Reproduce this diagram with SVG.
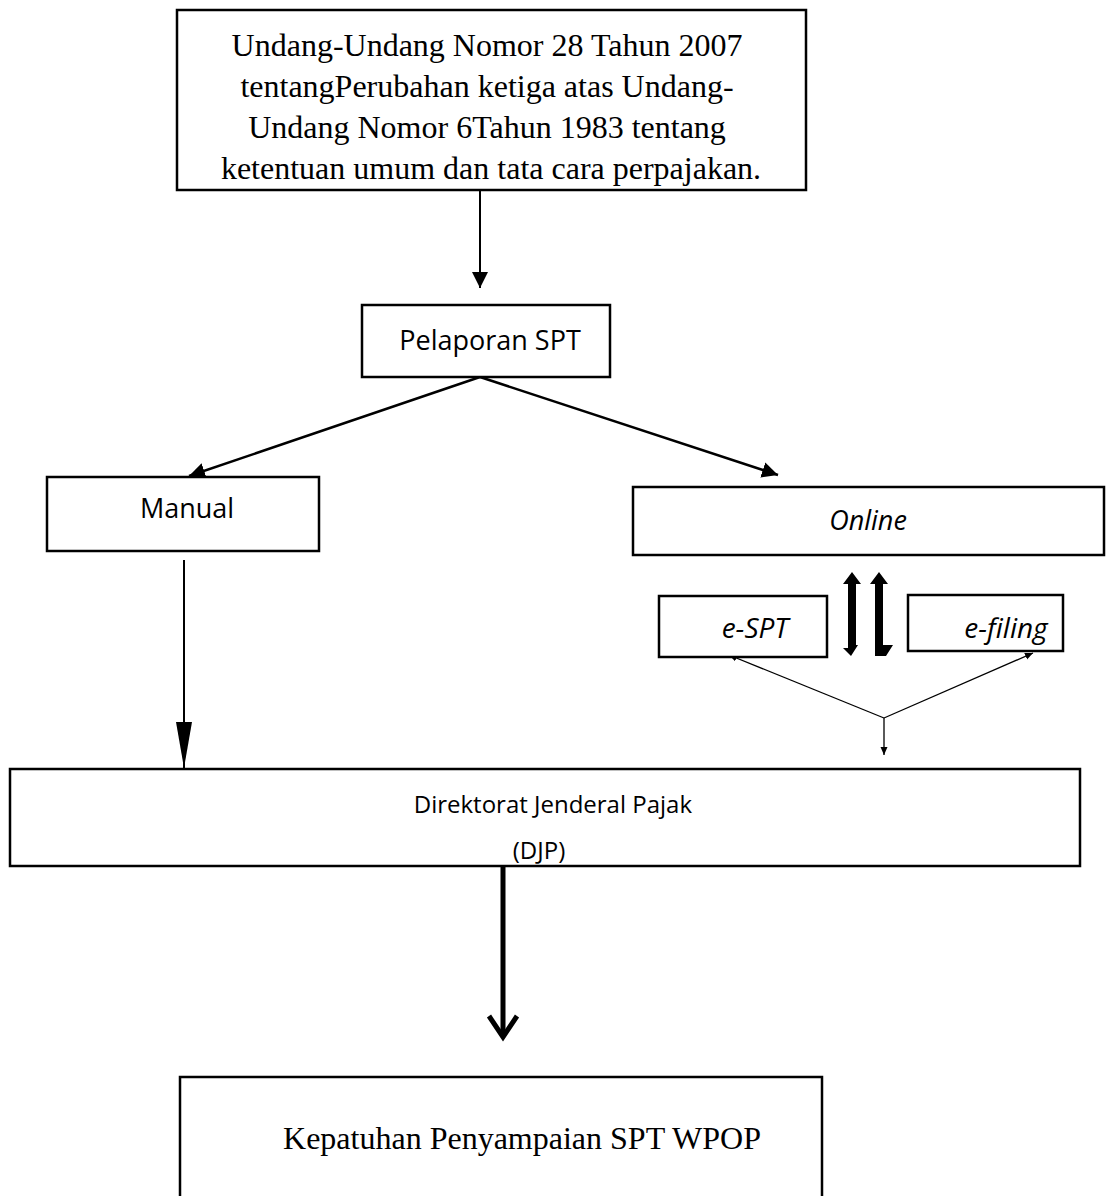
<svg xmlns="http://www.w3.org/2000/svg" width="1109" height="1196" viewBox="0 0 1109 1196">
<style>
.box{fill:#fff;stroke:#000;stroke-width:2.5}
.serif{font-family:"Liberation Serif","Times New Roman",serif;fill:#000}
.sans{font-family:"Open Sans","Noto Sans",sans-serif;fill:#000}
.it{font-style:italic}
.ln{stroke:#000;fill:none}
</style>
<defs>
<marker id="ah" markerUnits="userSpaceOnUse" markerWidth="16" markerHeight="20" refX="16" refY="8" orient="auto">
<path d="M0,0 L16,8 L0,16 Z" fill="#000"/>
</marker>
<marker id="ahs" markerUnits="userSpaceOnUse" markerWidth="8" markerHeight="8" refX="8" refY="4" orient="auto">
<path d="M0,0.5 L8,4 L0,7.5 Z" fill="#000"/>
</marker>
<marker id="ahl" markerUnits="userSpaceOnUse" markerWidth="46" markerHeight="16" refX="46" refY="8" orient="auto">
<path d="M0,0 L46,8 L0,16 Z" fill="#000"/>
</marker>
</defs>
<g id="connectors">
<line class="ln" x1="480" y1="190" x2="480" y2="288" stroke-width="2" marker-end="url(#ah)"/>
<line class="ln" x1="480" y1="377" x2="189" y2="476" stroke-width="2.5" marker-end="url(#ah)"/>
<line class="ln" x1="480" y1="377" x2="778" y2="475" stroke-width="2.5" marker-end="url(#ah)"/>
<line class="ln" x1="184" y1="560" x2="184" y2="768" stroke-width="2" marker-end="url(#ahl)"/>
<path d="M852,572 L861,584 L856,584 L856,645 L858,645 L851,656 L843,648 L848,648 L848,584 L843,584 Z" fill="#000"/>
<path d="M879,572 L888,584 L883,584 L883,645 L893,645 L886,656 L875,656 L875,584 L870,584 Z" fill="#000"/>
<line class="ln" x1="884" y1="718" x2="729" y2="655" stroke-width="1.3" marker-end="url(#ahs)"/>
<line class="ln" x1="884" y1="718" x2="1033" y2="653" stroke-width="1.3" marker-end="url(#ahs)"/>
<line class="ln" x1="884" y1="718" x2="884" y2="755" stroke-width="1.3" marker-end="url(#ahs)"/>
<line class="ln" x1="503" y1="866" x2="503" y2="1036" stroke-width="5"/>
<path class="ln" d="M489,1016 L503,1037 L517,1016" stroke-width="5" stroke-linejoin="miter"/>
</g>
<g id="node-uu">
<rect class="box" x="177" y="10" width="629" height="180"/>
<text class="serif" font-size="32" text-anchor="middle">
<tspan x="491" y="56">Undang-Undang Nomor 28 Tahun 2007</tspan>
<tspan x="491" y="97">tentangPerubahan ketiga atas Undang-</tspan>
<tspan x="491" y="138">Undang Nomor 6Tahun 1983 tentang</tspan>
<tspan x="491" y="179">ketentuan umum dan tata cara perpajakan.</tspan>
</text>
</g>
<g id="node-pelaporan">
<rect class="box" x="362" y="305" width="248" height="72"/>
<text class="sans" font-size="27" x="490" y="350" text-anchor="middle">Pelaporan SPT</text>
</g>
<g id="node-manual">
<rect class="box" x="47" y="477" width="272" height="74"/>
<text class="sans" font-size="27" x="187" y="518" text-anchor="middle">Manual</text>
</g>
<g id="node-online">
<rect class="box" x="633" y="487" width="471" height="68"/>
<text class="sans it" font-size="27" x="868" y="530" text-anchor="middle">Online</text>
</g>
<g id="node-espt">
<rect class="box" x="659" y="596" width="168" height="61"/>
<text class="sans it" font-size="28" x="755" y="638" text-anchor="middle">e-SPT</text>
</g>
<g id="node-efiling">
<rect class="box" x="908" y="595" width="155" height="56"/>
<text class="sans it" font-size="28" x="1006" y="638" text-anchor="middle">e-filing</text>
</g>
<g id="node-djp">
<rect class="box" x="10" y="769" width="1070" height="97"/>
<text class="sans" font-size="24" text-anchor="middle">
<tspan x="556" y="813">Direktorat Jenderal Pajak</tspan>
<tspan x="539" y="859">(DJP)</tspan>
</text>
</g>
<g id="node-kepatuhan">
<rect class="box" x="180" y="1077" width="642" height="130"/>
<text class="serif" font-size="32" x="522" y="1149" text-anchor="middle">Kepatuhan Penyampaian SPT WPOP</text>
</g>
</svg>
